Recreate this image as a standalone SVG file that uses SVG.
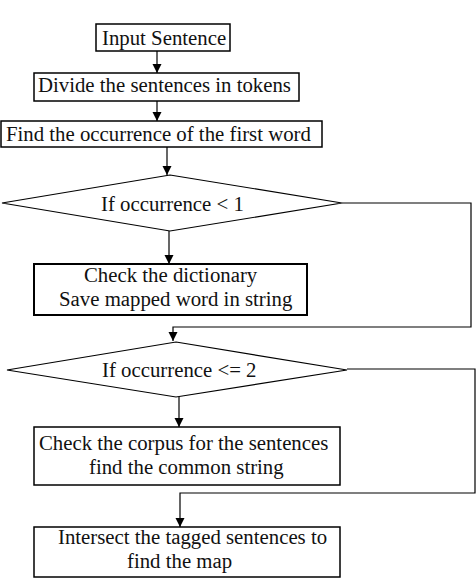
<svg xmlns="http://www.w3.org/2000/svg" width="476" height="582" viewBox="0 0 476 582">
<style>
.box{fill:#fff;stroke:#000;stroke-width:1.5}
.dia{fill:#fff;stroke:#000;stroke-width:1.2}
.t{font-family:"Liberation Serif","Times New Roman",serif;font-size:20.8px;fill:#111}
.c{fill:none;stroke:#000;stroke-width:1.2}
</style>
<defs>
<marker id="ah" markerUnits="userSpaceOnUse" markerWidth="10" markerHeight="11" refX="5" refY="10" orient="auto-start-reverse" viewBox="0 0 10 11">
<path d="M0,0 L10,0 L5,10 Z" fill="#000" transform="rotate(0)"/>
</marker>
<marker id="ad" markerUnits="userSpaceOnUse" markerWidth="10" markerHeight="11" refX="10" refY="5" orient="auto" viewBox="0 0 11 10">
<path d="M0,0 L10,5 L0,10 Z" fill="#000"/>
</marker>
</defs>
<rect width="476" height="582" fill="#fff"/>
<g id="connectors">
<line class="c" x1="157" y1="51" x2="157" y2="73" marker-end="url(#ad)"/>
<line class="c" x1="157" y1="101" x2="157" y2="121" marker-end="url(#ad)"/>
<line class="c" x1="167" y1="147" x2="167" y2="175" marker-end="url(#ad)"/>
<line class="c" x1="169" y1="231" x2="169" y2="264" marker-end="url(#ad)"/>
<polyline class="c" points="342,203 471,203 471,327 173,327 173,341" marker-end="url(#ad)"/>
<line class="c" x1="179" y1="397" x2="179" y2="427" marker-end="url(#ad)"/>
<polyline class="c" points="347,369 475,369 475,493 180,493 180,527" marker-end="url(#ad)"/>
</g>
<g id="n1">
<rect class="box" x="96" y="24" width="134" height="27"/>
<text class="t" x="102" y="45">Input Sentence</text>
</g>
<g id="n2">
<rect class="box" x="34" y="73" width="265" height="28"/>
<text class="t" x="38" y="92">Divide the sentences in tokens</text>
</g>
<g id="n3">
<rect class="box" x="1" y="121" width="321" height="26"/>
<text class="t" x="6" y="141">Find the occurrence of the first word</text>
</g>
<g id="n4">
<polygon class="dia" points="170,175 342,203 170,231 2,203"/>
<text class="t" x="101" y="211">If occurrence &lt; 1</text>
</g>
<g id="n5">
<rect class="box" x="34" y="264" width="273" height="51" style="stroke-width:2"/>
<text class="t" x="84" y="282">Check the dictionary</text>
<text class="t" x="59" y="306">Save mapped word in string</text>
</g>
<g id="n6">
<polygon class="dia" points="176,342 347,370 176,397 7,370"/>
<text class="t" x="102" y="377">If occurrence &lt;= 2</text>
</g>
<g id="n7">
<rect class="box" x="34" y="427" width="306" height="58"/>
<text class="t" x="39" y="450">Check the corpus for the sentences</text>
<text class="t" x="89" y="474">find the common string</text>
</g>
<g id="n8">
<rect class="box" x="34" y="527" width="306" height="50"/>
<text class="t" x="58" y="544">Intersect the tagged sentences to</text>
<text class="t" x="127" y="568">find the map</text>
</g>
</svg>
